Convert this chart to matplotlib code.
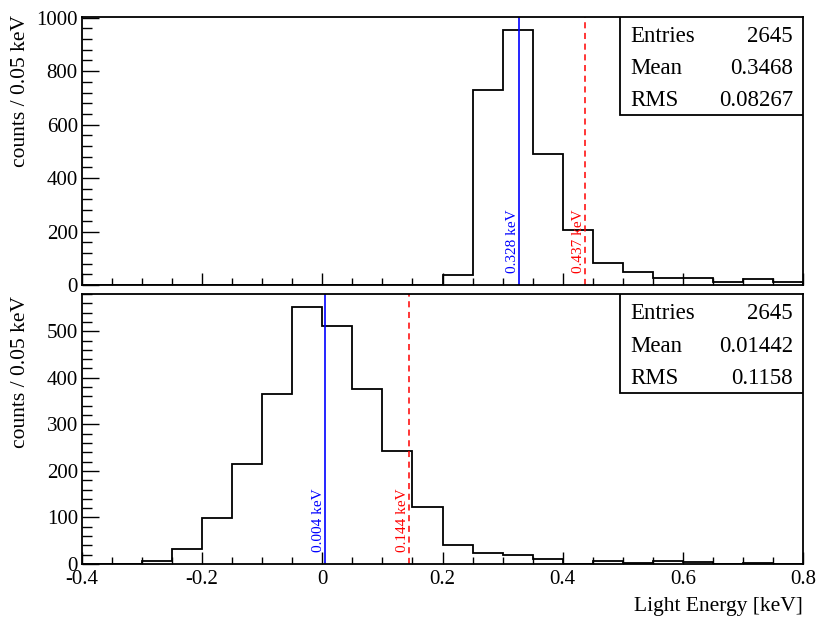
import numpy as np
import matplotlib
matplotlib.use("Agg")
import matplotlib.pyplot as plt
from matplotlib.patches import Rectangle
import matplotlib.transforms as mtransforms

plt.rcParams["font.family"] = ["Liberation Serif", "DejaVu Serif"]

# Binning: 0.05 keV bins from -0.4 to 0.8 keV
bin_edges = np.round(np.arange(-0.4, 0.8 + 1e-9, 0.05), 3)

# Counts per bin, upper spectrum
counts_top = [0, 0, 0, 0, 0, 0, 0, 0, 0, 0, 0, 0,
              37, 731, 955, 492, 205, 82, 50, 25, 27, 12, 21, 12]
# Counts per bin, lower spectrum
counts_bottom = [0, 0, 6, 32, 98, 214, 366, 552, 511, 377, 243, 122,
                 40, 24, 20, 10, 1, 6, 2, 6, 4, 0, 2, 0]

# Peak position (solid) and threshold (dashed) for each spectrum, keV
peak_top, thr_top = 0.328, 0.437
peak_bottom, thr_bottom = 0.004, 0.144

# Statistics box contents
stats_top = [("Entries", "2645"), ("Mean", "0.3468"), ("RMS", "0.08267")]
stats_bottom = [("Entries", "2645"), ("Mean", "0.01442"), ("RMS", "0.1158")]

ylabel_text = "counts / 0.05 keV"
xlabel_text = "Light Energy [keV]"

W, H = 819, 619
fig = plt.figure(figsize=(W / 100, H / 100), dpi=100)

def px_rect(l, t, r, b):
    return [l / W, 1 - b / H, (r - l) / W, (b - t) / H]

ax_top = fig.add_axes(px_rect(82, 17, 803, 285))
ax_bot = fig.add_axes(px_rect(82, 294, 803, 564))


def draw_panel(ax, counts, peak, thr, stats, ymajor, yminor, show_x):
    ax.stairs(counts, bin_edges, color="black", linewidth=1.3, baseline=0)
    ymax = 1.05 * max(counts)
    ax.set_xlim(bin_edges[0], bin_edges[-1])
    ax.set_ylim(0, ymax)

    ax.axvline(peak, color="#0000ff", linewidth=1.2)
    ax.axvline(thr, color="#ff0000", linewidth=1.1, linestyle=(0, (4, 3)))

    trans = mtransforms.blended_transform_factory(ax.transData, ax.transAxes)
    ax.text(peak, 0.045, f"{peak:.3f} keV", rotation=90, color="#0000ff",
            ha="right", va="bottom", fontsize=11, transform=trans)
    ax.text(thr, 0.045, f"{thr:.3f} keV", rotation=90, color="#ff0000",
            ha="right", va="bottom", fontsize=11, transform=trans)

    ax.set_xticks(np.arange(-0.4, 0.81, 0.2))
    ax.set_xticks(bin_edges, minor=True)
    ax.set_yticks(np.arange(0, ymax + 1, ymajor))
    ax.set_yticks(np.arange(0, ymax + 1, yminor), minor=True)
    ax.set_yticklabels([str(int(v)) for v in np.arange(0, ymax + 1, ymajor)])
    if show_x:
        ax.set_xticklabels(["-0.4", "-0.2", "0", "0.2", "0.4", "0.6", "0.8"])
    else:
        ax.set_xticklabels([])

    ax.tick_params(axis="both", which="both", direction="in", top=False,
                   right=False, labelsize=15, width=1.0)
    ax.tick_params(axis="x", which="major", length=9, pad=4)
    ax.tick_params(axis="x", which="minor", length=5)
    ax.tick_params(axis="y", which="major", length=12, pad=3)
    ax.tick_params(axis="y", which="minor", length=7)
    for s in ax.spines.values():
        s.set_linewidth(1.3)

    # statistics box in the upper right corner
    box = Rectangle((0.746, 0.634), 0.254, 0.366, transform=ax.transAxes,
                    facecolor="white", edgecolor="black", linewidth=1.3,
                    zorder=5)
    ax.add_patch(box)
    row_y = [0.927, 0.807, 0.688]
    for (name, val), yy in zip(stats, row_y):
        ax.text(0.760, yy, name, transform=ax.transAxes, fontsize=16.5,
                ha="left", va="center", zorder=6)
        ax.text(0.986, yy, val, transform=ax.transAxes, fontsize=16.5,
                ha="right", va="center", zorder=6)


draw_panel(ax_top, counts_top, peak_top, thr_top, stats_top, 200, 40, False)
draw_panel(ax_bot, counts_bottom, peak_bottom, thr_bottom, stats_bottom,
           100, 20, True)

fig.text(21 / W, 1 - 15 / H, ylabel_text, rotation=90, ha="center", va="top",
         fontsize=15.5)
fig.text(21 / W, 1 - 296 / H, ylabel_text, rotation=90, ha="center", va="top",
         fontsize=15.5)
fig.text(803 / W, 1 - 606 / H, xlabel_text, ha="right", va="center",
         fontsize=15.5)

fig.savefig("out.png", dpi=100)
